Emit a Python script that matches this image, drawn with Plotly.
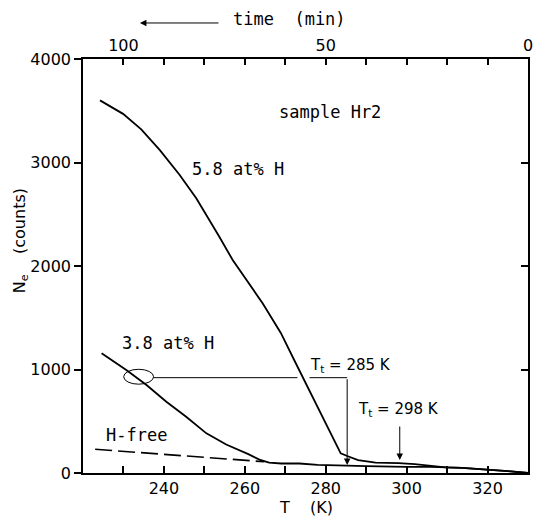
import plotly.graph_objects as go

# ---- data ----
T_58 = [224.2, 229.9, 234.4, 239.0, 243.9, 248.0, 253.7, 257.0, 264.4, 268.9, 272.2, 276.7,
        283.7, 285.3, 288.0, 292.3, 298.0, 302.0, 305.5, 309.6, 313.7, 319.5, 325.0, 330.0]
N_58 = [3600, 3470, 3320, 3120, 2880, 2654, 2283, 2058, 1640, 1353, 1092, 735,
        190, 164, 125, 100, 96, 85, 68, 55, 50, 35, 18, 0]

T_38 = [224.6, 230.7, 235.7, 240.6, 245.5, 250.5, 255.4, 258.7, 261.0, 263.6, 266.0, 269.0,
        273.5, 278.0, 285.0, 290.0, 300.0, 306.0, 313.7, 319.5, 325.0, 330.0]
N_38 = [1157, 995, 850, 689, 544, 383, 275, 222, 180, 130, 100, 92,
        92, 78, 68, 66, 60, 60, 50, 35, 18, 0]

T_free = [223.0, 264.8]
N_free = [229, 109]

x_ticks = [230, 240, 250, 260, 270, 280, 290, 300, 310, 320]
x_labels = ["", "240", "", "260", "", "280", "", "300", "", "320"]
time_ticks = [0, 10, 20, 30, 40, 50, 60, 70, 80, 90, 100]
time_labels = ["0", "", "", "", "", "50", "", "", "", "", "100"]
y_ticks = [0, 1000, 2000, 3000, 4000]

T_range = [220, 330]
T_end = 330          # time = T_end - T (1 K per minute)
N_range = [0, 4000]

Tt1, Tt2 = 285.3, 298.3
level_38 = 921
ellipse_c = (233.75, 930)
ellipse_half = (3.7, 72)

MONO = "DejaVu Sans Mono"
SANS = "DejaVu Sans"
BLACK = "black"

fig = go.Figure()
fig.add_trace(go.Scatter(x=T_58, y=N_58, mode="lines", line=dict(color=BLACK, width=1.8),
                         showlegend=False, hoverinfo="skip"))
fig.add_trace(go.Scatter(x=T_38, y=N_38, mode="lines", line=dict(color=BLACK, width=1.8),
                         showlegend=False, hoverinfo="skip"))
fig.add_trace(go.Scatter(x=T_free, y=N_free, mode="lines",
                         line=dict(color=BLACK, width=1.6, dash="17px,6px"),
                         showlegend=False, hoverinfo="skip"))
# dummy trace to carry the top / right axes
fig.add_trace(go.Scatter(x=[None], y=[None], xaxis="x2", yaxis="y2",
                         showlegend=False, hoverinfo="skip"))

# ellipse marking 3.8 at% H curve
fig.add_shape(type="circle", xref="x", yref="y",
              x0=ellipse_c[0] - ellipse_half[0], x1=ellipse_c[0] + ellipse_half[0],
              y0=ellipse_c[1] - ellipse_half[1], y1=ellipse_c[1] + ellipse_half[1],
              line=dict(color=BLACK, width=1))
# horizontal connector (with gap at curve crossing)
fig.add_shape(type="line", xref="x", yref="y", x0=ellipse_c[0] + ellipse_half[0], x1=273.0,
              y0=level_38, y1=level_38, line=dict(color=BLACK, width=1))
fig.add_shape(type="line", xref="x", yref="y", x0=276.0, x1=Tt1,
              y0=level_38, y1=level_38, line=dict(color=BLACK, width=1))

annots = []
# arrows
annots.append(dict(x=Tt1, y=77, ax=Tt1, ay=level_38, xref="x", yref="y", axref="x", ayref="y",
                   text="", showarrow=True, arrowhead=2, arrowsize=1.3, arrowwidth=1, arrowcolor=BLACK))
annots.append(dict(x=Tt2, y=126, ax=Tt2, ay=464, xref="x", yref="y", axref="x", ayref="y",
                   text="", showarrow=True, arrowhead=2, arrowsize=1.3, arrowwidth=1, arrowcolor=BLACK))
# labels
def lab(x, y, txt, font=MONO, size=17):
    return dict(x=x, y=y, xref="x", yref="y", text=txt, showarrow=False,
                xanchor="left", yanchor="middle", font=dict(family=font, size=size, color=BLACK))

annots.append(lab(268.0, 3490, "sample Hr2"))
annots.append(lab(246.4, 2937, "5.8 at% H"))
annots.append(lab(229.1, 1256, "3.8 at% H"))
annots.append(lab(225.2, 367, "H-free"))
annots.append(lab(275.6, 1040, "T<sub>t</sub> = 285 K", SANS, 15))
annots.append(lab(287.6, 612, "T<sub>t</sub> = 298 K", SANS, 15))

# axis titles
annots.append(dict(x=0.5, y=0, xref="paper", yref="paper", yshift=-34, text="T    (K)",
                   showarrow=False, xanchor="center", yanchor="middle",
                   font=dict(family=SANS, size=16, color=BLACK)))
annots.append(dict(x=0, y=0.56, xref="paper", yref="paper", xshift=-63, textangle=-90,
                   text="N<sub>e</sub>    (counts)", showarrow=False, xanchor="center",
                   yanchor="middle", font=dict(family=SANS, size=16, color=BLACK)))
annots.append(dict(x=0.465, y=1, xref="paper", yref="paper", yshift=40, text="time  (min)",
                   showarrow=False, xanchor="center", yanchor="middle",
                   font=dict(family=MONO, size=17, color=BLACK)))
annots.append(dict(x=0.128, y=1.087, xref="paper", yref="paper", ax=80, ay=0, text="",
                   showarrow=True, arrowhead=2, arrowsize=1.3, arrowwidth=1, arrowcolor=BLACK))

axis_common = dict(showgrid=False, zeroline=False, showline=True, linecolor=BLACK, linewidth=1.5,
                   tickcolor=BLACK, tickwidth=1.5, automargin=False, ticklabeloverflow="allow",
                   tickfont=dict(family=SANS, size=16, color=BLACK))

fig.update_layout(
    width=533, height=516,
    margin=dict(l=83, r=5, t=59, b=43),
    paper_bgcolor="white", plot_bgcolor="white",
    annotations=annots,
    xaxis=dict(range=T_range, tickmode="array", tickvals=x_ticks, ticktext=x_labels,
               ticks="inside", ticklen=7, mirror=True, **axis_common),
    xaxis2=dict(range=[T_end - T_range[0], T_end - T_range[1]], overlaying="x", side="top",
                anchor="y", tickmode="array", tickvals=time_ticks, ticktext=time_labels,
                ticks="inside", ticklen=6, **axis_common),
    yaxis=dict(range=N_range, tickmode="array", tickvals=y_ticks,
               ticks="outside", ticklen=7, mirror=True, **axis_common),
    yaxis2=dict(range=N_range, overlaying="y", side="right", anchor="x",
                tickmode="array", tickvals=y_ticks[1:-1], showticklabels=False,
                ticks="inside", ticklen=7, **axis_common),
)

# remove the page's default body margin so the 533x516 figure fills the window exactly
fig.write_html("out.html", config={"displayModeBar": False},
               post_script="document.body.style.margin='0';document.body.style.overflow='hidden';")
